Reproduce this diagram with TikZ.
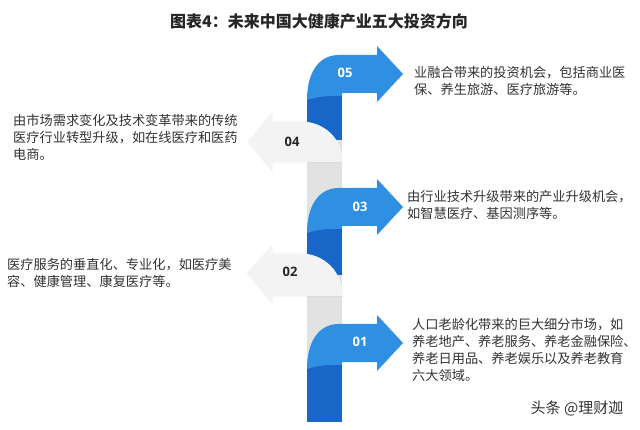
\documentclass[tikz,border=0pt]{standalone}
\usepackage{fontspec}
\setmainfont{Noto Sans CJK SC}
\newfontfamily\numfont{Open Sans}
\definecolor{lightblue}{HTML}{2E8FE3}
\definecolor{darkblue}{HTML}{1766C8}
\definecolor{colgray}{HTML}{E2E2E2}
\definecolor{arrgray}{HTML}{F3F3F3}
\definecolor{txt}{HTML}{333333}
\tikzset{
  grayarrow/.style={fill=arrgray, draw=black!4, line width=1.2pt, line join=round},
  numw/.style={text=white, font=\numfont\bfseries\fontsize{13}{13}\selectfont, inner sep=0pt},
  numb/.style={text=black!85, font=\numfont\bfseries\fontsize{13}{13}\selectfont, inner sep=0pt},
  desc/.style={text=txt, font=\fontsize{13.2}{16.8}\selectfont, align=left, inner sep=0pt, anchor=west},
}
\newcommand\blueRibbon[1]{%
  \fill[lightblue] (307,{#1+26}) .. controls (307,{#1+1}) and (317,{#1-19}) .. (339,{#1-19})
    -- (377,{#1-19}) -- (377,{#1-28}) -- (403,{#1}) -- (377,{#1+28}) -- (377,{#1+19})
    -- (342,{#1+19}) -- (342,{#1+22}) .. controls (330,{#1+21}) and (316,{#1+23}) .. (307,{#1+26}) -- cycle;}
\begin{document}
\begin{tikzpicture}[x=1pt,y=-1pt]
\useasboundingbox (0,0) rectangle (640,430);
\fill[white] (0,0) rectangle (640,430);
% title
\node[text=black!85, font=\bfseries\fontsize{16}{16}\selectfont, inner sep=0pt] (title) at (319,21) {图表4：未来中国大健康产业五大投资方向};
% column pieces
\fill[colgray] (307,140) rectangle (342,233);
\fill[colgray] (307,275) rectangle (342,369);
\fill[darkblue] (307,94) rectangle (342,140);
\fill[darkblue] (307,227) rectangle (342,275);
\fill[darkblue] (307,363) rectangle (342,422);
% gray arrows
\path[grayarrow] (248,142) -- (272,113) -- (272,122) -- (300,122) .. controls (324,122) and (342,139) .. (342,162) -- (272,162) -- (272,171) -- cycle;
\draw[black!14, line width=1pt] (307,163) -- (342,163);
\path[grayarrow] (247,273) -- (272,246) -- (272,254) -- (300,254) .. controls (324,254) and (342,272) .. (342,296) -- (272,296) -- (272,303) -- cycle;
\draw[black!14, line width=1pt] (307,297) -- (342,297);
% blue arrows
\blueRibbon{74}
\blueRibbon{207}
\blueRibbon{343}
% labels
\node[numw] (n05) at (345,73) {05};
\node[numw] (n03) at (360,207) {03};
\node[numw] (n01) at (360,342) {01};
\node[numb] (n04) at (292,142) {04};
\node[numb] (n02) at (290,272) {02};
% descriptions
\node[desc] (d05) at (414,81) {业融合带来的投资机会，包括商业医\\保、养生旅游、医疗旅游等。};
\node[desc] (d04) at (13,137.5) {由市场需求变化及技术变革带来的传统\\医疗行业转型升级，如在线医疗和医药\\电商。};
\node[desc] (d03) at (407,205) {由行业技术升级带来的产业升级机会，\\如智慧医疗、基因测序等。};
\node[desc] (d02) at (7,273) {医疗服务的垂直化、专业化，如医疗美\\容、健康管理、康复医疗等。};
\node[desc] (d01) at (412,350) {人口老龄化带来的巨大细分市场，如\\养老地产、养老服务、养老金融保险、\\养老日用品、养老娱乐以及养老教育\\六大领域。};
% watermark
\node[text=black!80, font=\fontsize{15}{15}\selectfont, inner sep=0pt] (wm) at (577,408) {头条 @理财迦};
\end{tikzpicture}
\end{document}
